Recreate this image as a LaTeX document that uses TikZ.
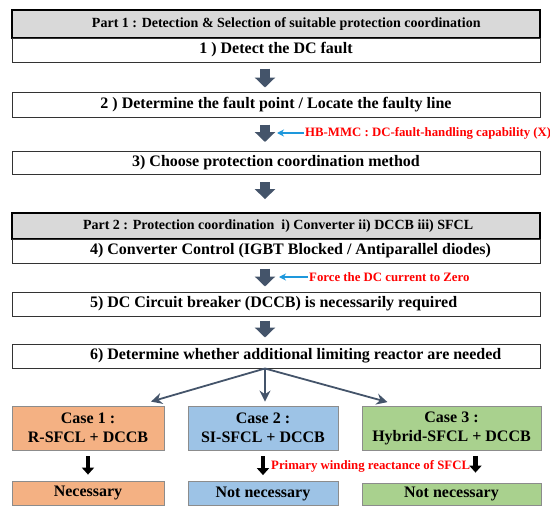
\documentclass[tikz,border=0pt]{standalone}
\usepackage{fontspec}
\setmainfont{Liberation Serif}
\usetikzlibrary{arrows.meta,positioning}
\definecolor{slate}{HTML}{44546A}
\definecolor{hdrgray}{HTML}{D9D9D9}
\definecolor{caseorange}{HTML}{F4B183}
\definecolor{caseblue}{HTML}{9DC3E6}
\definecolor{casegreen}{HTML}{A9D18E}
\definecolor{feedblue}{HTML}{1E98DC}
\newcommand{\leftat}[2]{\makebox[#1][l]{#2}}
\tikzset{stage/.style={draw=black!80, line width=1pt, fill=white, minimum width=528pt, minimum height=24pt, inner sep=0pt, font=\fontsize{16}{18}\selectfont\bfseries},
  header/.style={stage, draw=black, fill=hdrgray, line width=1.8pt, font=\fontsize{14}{16}\selectfont\bfseries},
  case/.style={draw=black!45, line width=0.8pt, minimum height=44pt, inner sep=0pt, align=center, font=\fontsize{16}{18.5}\selectfont\bfseries},
  result/.style={case, minimum height=24pt},
  note/.style={text=red, inner sep=1pt, anchor=west, font=\fontsize{12.8}{14}\selectfont\bfseries},
  flow/.style={slate, line width=10pt, -{Triangle[length=10pt,width=20pt]}},
  drop/.style={black, line width=4.5pt, -{Triangle[length=7pt,width=12pt]}},
  feed/.style={feedblue, line width=2pt, -{Stealth[length=7pt,width=7pt]}},
  branch/.style={slate, line width=1.8pt, -{Stealth[length=11pt,width=11pt]}}}

\begin{document}
\begin{tikzpicture}[x=1pt, y=-1pt]
    \useasboundingbox (0,0) rectangle (550,514);
    \node[header] (H1) at (276,24) [minimum height=28pt] {\leftat{368pt}{Part 1 : Detection \& Selection of suitable protection coordination}};
    \node[stage] (S1) at (276,50) {1 ) Detect the DC fault};
    \node[stage] (S2) at (276,104.5) [minimum height=25pt] {2 ) Determine the fault point / Locate the faulty line};
    \node[stage] (S3) at (276,163) [minimum height=23pt] {3) Choose protection coordination method};
    \node[header] (H2) at (276,226) [minimum height=26pt] {\leftat{386pt}{Part 2 : Protection coordination\ \ i) Converter ii) DCCB iii) SFCL}};
    \node[stage] (S4) at (276,251) {\leftat{372pt}{4) Converter Control (IGBT Blocked / Antiparallel diodes)}};
    \node[stage] (S5) at (276,304) {\leftat{372pt}{5) DC Circuit breaker (DCCB) is necessarily required}};
    \node[stage] (S6) at (276,356) {\leftat{372pt}{6) Determine whether additional limiting reactor are needed}};
    \node[case,fill=caseorange,minimum width=152pt] (C1) at (88,428) {Case 1 :\\R-SFCL + DCCB};
    \node[case,fill=caseblue,minimum width=150pt] (C2) at (263,428) {Case 2 :\\SI-SFCL + DCCB};
    \node[case,fill=casegreen,minimum width=179pt] (C3) at (451.5,428.5) {Case 3 :\\Hybrid-SFCL + DCCB};
    \node[result,fill=caseorange,minimum width=152pt] (R1) at (88,493) {Necessary};
    \node[result,fill=caseblue,minimum width=150pt] (R2) at (263,493.5) {Not necessary};
    \node[result,fill=casegreen,minimum width=179pt,minimum height=22pt] (R3) at (451.5,494) {Not necessary};
    \node[note] (T1) at (304,133) {HB-MMC : DC-fault-handling capability (X)};
    \node[note] (T2) at (308,277) {Force the DC current to Zero};
    \node[note] (T3) at (270,466) {Primary winding reactance of SFCL};
    \coordinate (P1) at (277,133);
    \coordinate (P2) at (279,277);
    \draw[flow,shorten <=6pt,shorten >=4pt] ([xshift=-11pt]S1.south) -- ([xshift=-11pt]S2.north);
    \draw[flow,shorten <=7pt,shorten >=9pt] ([xshift=-11pt]S2.south) -- ([xshift=-11pt]S3.north);
    \draw[flow,shorten <=7pt,shorten >=13pt] ([xshift=-11pt]S3.south) -- ([xshift=-11pt]H2.north);
    \draw[flow,shorten <=5pt,shorten >=5pt] ([xshift=-11pt]S4.south) -- ([xshift=-11pt]S5.north);
    \draw[flow,shorten <=4pt,shorten >=6pt] ([xshift=-11pt]S5.south) -- ([xshift=-11pt]S6.north);
    \draw[feed] (T1.west) -- (P1);
    \draw[feed] (T2.west) -- (P2);
    \draw[branch] ([xshift=-11pt]S6.south) -- ([shift={(63,-4)}]C1.north);
    \draw[branch] ([xshift=-11pt]S6.south) -- ([shift={(2,-4)}]C2.north);
    \draw[branch] ([xshift=-11pt]S6.south) -- ([shift={(-64,-4)}]C3.north);
    \draw[drop,shorten <=6pt,shorten >=6pt] (C1.south) -- (R1.north);
    \draw[drop,shorten <=6pt,shorten >=6pt] (C2.south) -- (R2.north);
    \draw[drop,shorten <=5pt,shorten >=10pt] ([xshift=24pt]C3.south) -- ([xshift=24pt]R3.north);
\end{tikzpicture}
\end{document}
